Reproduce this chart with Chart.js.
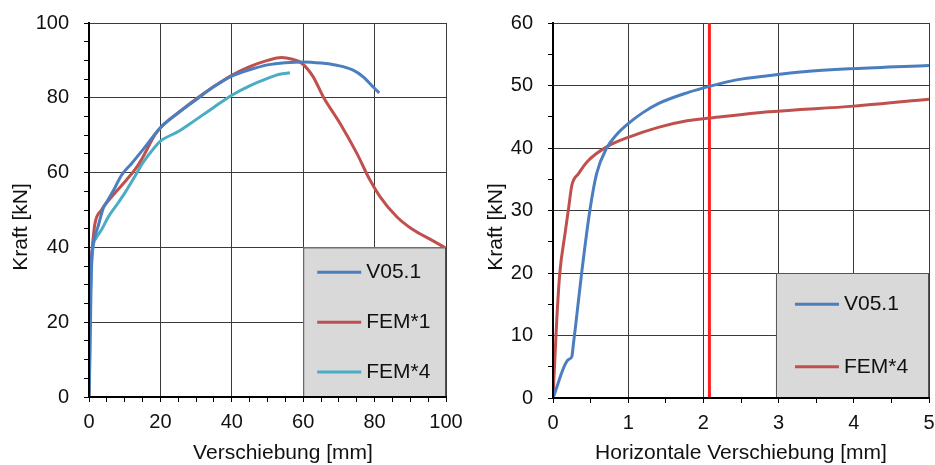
<!DOCTYPE html>
<html>
<head>
  <title>Kraft-Verschiebung</title>
  <script src="https://cdn.jsdelivr.net/npm/chart.js@4.4.0/dist/chart.umd.min.js"></script>
  <style>
    html, body { margin: 0; padding: 0; background: #fff; }
    .wrap { position: absolute; top: 0; }
    #left { left: 0; width: 470px; height: 465px; }
    #right { left: 470px; width: 465px; height: 465px; }
  </style>
</head>
<body>
  <div class="wrap" id="left"><canvas id="chartL" width="470" height="465"></canvas></div>
  <div class="wrap" id="right"><canvas id="chartR" width="465" height="465"></canvas></div>
<script>
// linkes Diagramm: Kraft ueber Verschiebung
var v051L_x = [0, 0.3, 0.5, 0.7, 1, 1.5, 2.5, 4, 5.3, 7, 9.1, 12, 15, 20, 25, 30, 35, 40, 45, 50, 55, 60, 65, 69.4, 74, 76.8, 79.6, 81.3];
var v051L_y = [0, 12, 25, 36, 40, 42.5, 45.5, 50.5, 52.7, 55.5, 59.3, 62.5, 66, 72, 76, 79.5, 83, 85.8, 87.5, 88.8, 89.4, 89.6, 89.3, 88.7, 87.4, 85.6, 82.9, 81.3];
var fem1_x = [0, 0.1, 0.2, 0.7, 1.6, 3.5, 5, 7.2, 10, 12.8, 15, 18.4, 20, 25, 30, 35, 40, 45, 50, 53.9, 57, 59.5, 62.8, 65.6, 70.3, 75, 78.7, 81.5, 86.2, 90.8, 95.5, 100];
var fem1_y = [0, 15, 27.8, 37.5, 46, 50, 52, 54.5, 57.5, 60.7, 64, 70, 72, 76, 79.7, 83, 86, 88.3, 90, 90.8, 90.3, 89.3, 85.6, 80.3, 73.2, 65.2, 58, 53.6, 48.2, 44.7, 42.2, 39.8];
var fem4L_x = [0, 0.2, 0.5, 1.1, 2, 3.5, 5.5, 8.1, 10, 12.8, 15, 18.4, 20, 25, 28.2, 35, 40, 45, 50, 53.4, 56.3];
var fem4L_y = [0, 19.8, 30, 39.8, 42.5, 44.7, 48.3, 51.8, 54.5, 58.9, 62.5, 66.8, 68.4, 71, 73, 77.5, 80.7, 83.2, 85.2, 86.3, 86.7];

// rechtes Diagramm: Kraft ueber horizontale Verschiebung
var v051R_x = [0, 0.2, 0.25, 0.27, 0.3, 0.38, 0.49, 0.58, 0.71, 0.85, 1.0, 1.2, 1.4, 1.8, 2.09, 2.44, 2.88, 3.33, 4, 5];
var v051R_y = [0, 6.1, 6.6, 8.5, 11.5, 19.9, 30, 35.9, 39.9, 42.2, 43.9, 45.7, 47.1, 48.9, 49.9, 50.9, 51.6, 52.2, 52.7, 53.2];
var fem4R_x = [0, 0.05, 0.09, 0.16, 0.21, 0.25, 0.34, 0.47, 0.73, 1.0, 1.4, 1.8, 2.09, 2.88, 4, 5];
var fem4R_y = [0, 12.5, 19.9, 26.3, 30.6, 34, 35.9, 38, 40.3, 41.7, 43.3, 44.4, 44.8, 45.8, 46.7, 47.8];
var marker_x = [2.08, 2.08];
var marker_y = [0, 60];

var BLUE = '#4a7ebf', RED = '#c0504d', CYAN = '#4bacc6';
var FONT = '"Liberation Sans", Arial, sans-serif';

Chart.defaults.font.family = FONT;
Chart.defaults.color = '#111';

function pts(xs, ys) {
  return xs.map(function(x, i) { return {x: x, y: ys[i]}; });
}

function series(label, xs, ys, color) {
  return {
    label: label, data: pts(xs, ys), borderColor: color, backgroundColor: color,
    borderWidth: 3, pointRadius: 0, cubicInterpolationMode: 'monotone', fill: false
  };
}

function isMajor(v, major) {
  var r = v / major;
  return Math.abs(r - Math.round(r)) < 1e-6;
}

// Achse mit Nebenstrichen, Gitter nur an Hauptwerten
function axis(min, max, minor, major, fitSize, isX) {
  return {
    type: 'linear', min: min, max: max,
    border: { color: '#000', width: 2, z: 1 },
    grid: {
      color: function(c) { return c.tick && isMajor(c.tick.value, major) ? '#3a3a3a' : 'rgba(0,0,0,0)'; },
      tickColor: '#000', tickLength: 5, lineWidth: 1
    },
    ticks: {
      stepSize: minor, autoSkip: false, maxRotation: 0,
      padding: isX ? 8 : 15,
      font: { size: 20 },
      callback: function(v) { return isMajor(v, major) ? String(Math.round(v)) : ''; }
    },
    afterFit: function(s) {
      if (isX) s.height = fitSize; else s.width = fitSize;
      s.paddingTop = s.paddingBottom = s.paddingLeft = s.paddingRight = 0;
    }
  };
}

// Achsentitel (wie im Original leicht aus der Mitte versetzt)
var axisTitles = {
  id: 'axisTitles',
  afterDraw: function(chart, args, opts) {
    var ctx = chart.ctx;
    ctx.save();
    ctx.font = '21px ' + FONT;
    ctx.fillStyle = '#111';
    ctx.textAlign = 'center';
    ctx.textBaseline = 'middle';
    ctx.fillText(opts.xText, opts.xAt[0], opts.xAt[1]);
    ctx.translate(opts.yAt[0], opts.yAt[1]);
    ctx.rotate(-Math.PI / 2);
    ctx.fillText(opts.yText, 0, 0);
    ctx.restore();
  }
};

// graue Legendenbox im Diagramm
var legendBox = {
  id: 'legendBox',
  afterDatasetsDraw: function(chart, args, opts) {
    var ctx = chart.ctx, area = chart.chartArea;
    var left = chart.scales.x.getPixelForValue(opts.x0);
    var top = chart.scales.y.getPixelForValue(opts.y1);
    var right = area.right, bottom = area.bottom;
    ctx.save();
    ctx.fillStyle = '#d9d9d9';
    ctx.fillRect(left, top, right - left, bottom - top);
    ctx.strokeStyle = '#555';
    ctx.lineWidth = 1;
    ctx.strokeRect(left + 0.5, top + 0.5, right - left - 1, bottom - top - 1);
    var items = chart.data.datasets.filter(function(d) { return !d.noLegend; });
    var rowH = (bottom - top) / items.length;
    ctx.font = '21px ' + FONT;
    ctx.textBaseline = 'middle';
    items.forEach(function(d, i) {
      var y = top + (i + 0.5) * rowH;
      ctx.strokeStyle = d.borderColor;
      ctx.lineWidth = 3;
      ctx.beginPath();
      ctx.moveTo(left + opts.pad, y);
      ctx.lineTo(left + opts.pad + 44, y);
      ctx.stroke();
      ctx.fillStyle = '#111';
      ctx.fillText(d.label, left + opts.pad + 49, y);
    });
    ctx.restore();
  }
};

new Chart(document.getElementById('chartL'), {
  type: 'line',
  data: {
    datasets: [
      series('V05.1', v051L_x, v051L_y, BLUE),
      series('FEM*1', fem1_x, fem1_y, RED),
      series('FEM*4', fem4L_x, fem4L_y, CYAN)
    ]
  },
  options: {
    responsive: false, animation: false,
    layout: { padding: { left: 0, top: 23, right: 24, bottom: 0 } },
    plugins: {
      legend: { display: false }, tooltip: { enabled: false },
      legendBox: { x0: 60, y1: 40, pad: 14 },
      axisTitles: { xText: 'Verschiebung [mm]', xAt: [283, 453], yText: 'Kraft [kN]', yAt: [21, 227] }
    },
    scales: {
      x: axis(0, 100, 5, 20, 68, true),
      y: axis(0, 100, 5, 20, 89, false)
    }
  },
  plugins: [legendBox, axisTitles]
});

var markerSet = {
  label: 'Markierung', data: pts(marker_x, marker_y), borderColor: '#ff1f1f',
  borderWidth: 3, pointRadius: 0, tension: 0, noLegend: true
};

new Chart(document.getElementById('chartR'), {
  type: 'line',
  data: {
    datasets: [
      series('V05.1', v051R_x, v051R_y, BLUE),
      series('FEM*4', fem4R_x, fem4R_y, RED),
      markerSet
    ]
  },
  options: {
    responsive: false, animation: false,
    layout: { padding: { left: 0, top: 23, right: 6, bottom: 0 } },
    plugins: {
      legend: { display: false }, tooltip: { enabled: false },
      legendBox: { x0: 2.965, y1: 20, pad: 19 },
      axisTitles: { xText: 'Horizontale Verschiebung [mm]', xAt: [271, 453], yText: 'Kraft [kN]', yAt: [26, 227] }
    },
    scales: {
      x: axis(0, 5, 0.5, 1, 67, true),
      y: axis(0, 60, 5, 10, 83, false)
    }
  },
  plugins: [legendBox, axisTitles]
});
</script>
</body>
</html>
